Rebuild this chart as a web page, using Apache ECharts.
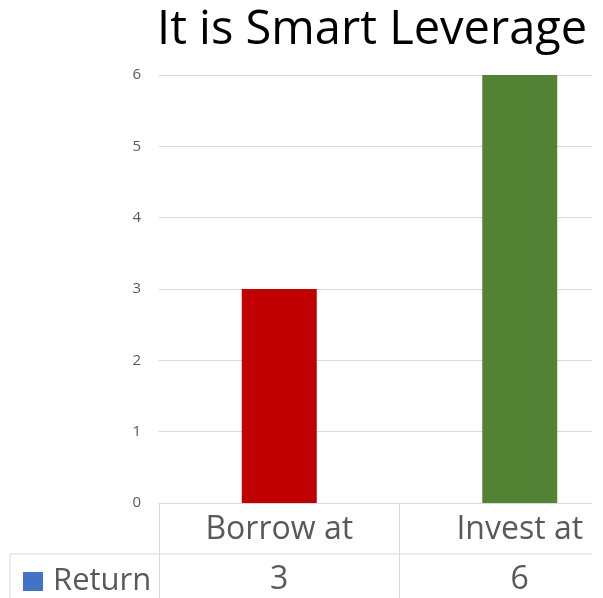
<!DOCTYPE html>
<html>
<head>
<meta charset="utf-8">
<script src="https://cdn.jsdelivr.net/npm/echarts@6/dist/echarts.min.js"></script>
<style>
    html, body { margin: 0; padding: 0; background: #fff; }
    #wrap { width: 592px; height: 598px; overflow: hidden; }
    #chart { width: 640px; height: 598px; }
</style>
</head>
<body>
<div id="wrap"><div id="chart"></div></div>
<script>
// data
var categories = ['Borrow at', 'Invest at'];
var returnValues = [3, 6];
var barColors = ['#C00000', '#548235'];
var seriesName = 'Return';

var chart = echarts.init(document.getElementById('chart'));
var font = 'Open Sans';
var grey = '#595959';
var lineGrey = '#D9D9D9';

var option = {
    animation: false,
    title: {
        text: 'It is Smart Leverage',
        left: 152,
        top: 2,
        textStyle: { fontFamily: font, fontSize: 47, fontWeight: 'normal', color: '#000' }
    },
    legend: {
        left: 18,
        top: 561,
        itemWidth: 20,
        itemHeight: 19,
        icon: 'rect',
        textStyle: { fontFamily: font, fontSize: 31, color: grey, padding: [0, 0, 0, 5] },
        data: [seriesName]
    },
    grid: { left: 159, right: 0, top: 75, bottom: 95 },
    xAxis: [{
        type: 'category',
        data: categories,
        axisLine: { lineStyle: { color: lineGrey } },
        axisTick: { show: true, length: 95, interval: 0, lineStyle: { color: lineGrey } },
        axisLabel: { fontFamily: font, fontSize: 32, color: grey, margin: 11 }
    }, {
        type: 'category',
        data: categories,
        position: 'bottom',
        offset: 51,
        axisLine: { show: false },
        axisTick: { show: false },
        axisLabel: {
            fontFamily: font, fontSize: 32, color: grey, margin: 10,
            formatter: function (v, i) { return String(returnValues[i]); }
        }
    }],
    yAxis: {
        type: 'value',
        min: 0,
        max: 6,
        interval: 1,
        axisLine: { show: false },
        axisTick: { show: false },
        splitLine: { lineStyle: { color: lineGrey } },
        axisLabel: { fontFamily: font, fontSize: 15, color: grey, margin: 18 }
    },
    series: [{
        name: seriesName,
        type: 'bar',
        barWidth: 75,
        itemStyle: { color: '#4472C4' },
        data: returnValues.map(function (v, i) {
            return { value: v, itemStyle: { color: barColors[i] } };
        })
    }],
    graphic: [
        { type: 'line', shape: { x1: 10, y1: 554, x2: 640, y2: 554 }, style: { stroke: lineGrey, lineWidth: 1 } },
        { type: 'line', shape: { x1: 10, y1: 554, x2: 10, y2: 598 }, style: { stroke: lineGrey, lineWidth: 1 } }
    ]
};
chart.setOption(option);
</script>
</body>
</html>
